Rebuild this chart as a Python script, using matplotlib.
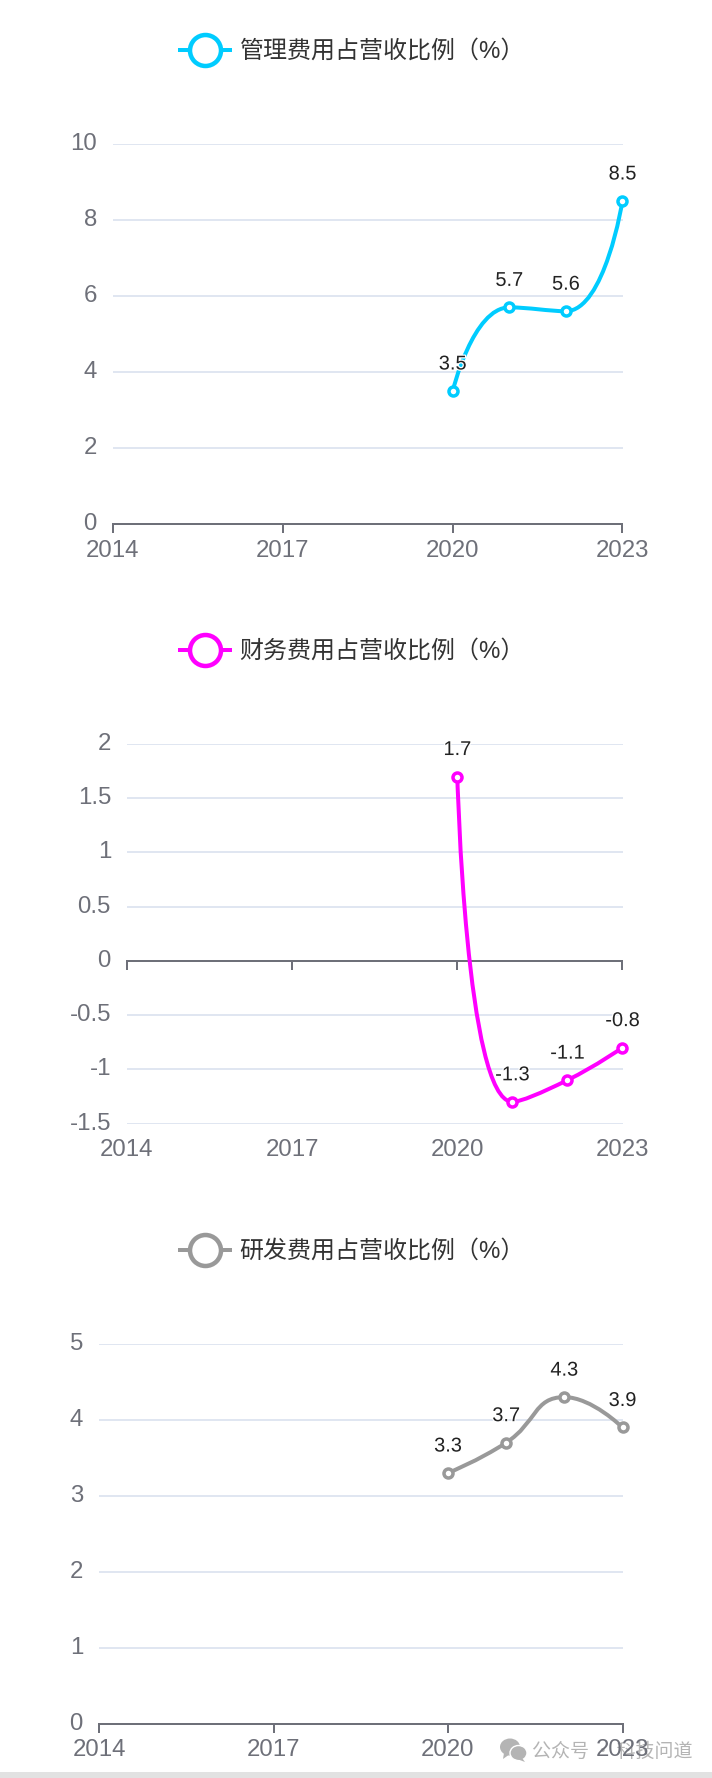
import matplotlib
matplotlib.use("Agg")
import matplotlib.pyplot as plt
import matplotlib.patheffects as pe
import numpy as np
from matplotlib.lines import Line2D
from matplotlib.patches import Ellipse, PathPatch, Polygon, Rectangle
from matplotlib.path import Path

plt.rcParams["font.family"] = ["Liberation Sans", "Noto Sans CJK SC"]

W, H = 712, 1778
PX = 0.72  # points per pixel at dpi 100

tick_years = [2014, 2017, 2020, 2023]
data_years = [2020, 2021, 2022, 2023]

admin_name = "管理费用占营收比例（%）"
admin_values = [3.5, 5.7, 5.6, 8.5]
admin_ticks = [0, 2, 4, 6, 8, 10]
admin_tick_labels = ["0", "2", "4", "6", "8", "10"]

finance_name = "财务费用占营收比例（%）"
finance_values = [1.7, -1.3, -1.1, -0.8]
finance_ticks = [-1.5, -1, -0.5, 0, 0.5, 1, 1.5, 2]
finance_tick_labels = ["-1.5", "-1", "-0.5", "0", "0.5", "1", "1.5", "2"]

rd_name = "研发费用占营收比例（%）"
rd_values = [3.3, 3.7, 4.3, 3.9]
rd_ticks = [0, 1, 2, 3, 4, 5]
rd_tick_labels = ["0", "1", "2", "3", "4", "5"]


def smooth_path(ax, xs, ys, smooth=0.5):
    # same idea as echarts smooth lines, worked out in pixels then mapped back
    pts = ax.transData.transform(np.column_stack([xs, ys]))
    n = len(pts)
    verts = [pts[0]]
    codes = [Path.MOVETO]
    out_cp = pts[0]
    for i in range(1, n):
        p = pts[i]
        if i == n - 1:
            in_cp = p
            next_out = p
        else:
            prev_len = np.hypot(*(p - pts[i - 1]))
            next_len = np.hypot(*(pts[i + 1] - p))
            v = pts[i + 1] - pts[i - 1]
            ratio = next_len / (next_len + prev_len)
            next_out = p + v * smooth * ratio
            lo = np.minimum(pts[i + 1], p)
            hi = np.maximum(pts[i + 1], p)
            next_out = np.clip(next_out, lo, hi)
            in_cp = p - (next_out - p) * prev_len / next_len
            lo = np.minimum(pts[i - 1], p)
            hi = np.maximum(pts[i - 1], p)
            in_cp = np.clip(in_cp, lo, hi)
            next_out = p + (p - in_cp) * next_len / prev_len
        verts += [out_cp, in_cp, p]
        codes += [Path.CURVE4, Path.CURVE4, Path.CURVE4]
        out_cp = next_out
    return Path(ax.transData.inverted().transform(np.array(verts)), codes)


def draw_chart(top, bottom, left, name, values, ticks, labels, color):
    ax = fig.add_axes([left / W, 1 - bottom / H, (622.5 - left) / W, (bottom - top) / H])
    ax.set_xlim(tick_years[0], tick_years[-1])
    ax.set_ylim(ticks[0], ticks[-1])
    ax.patch.set_alpha(0)

    for s in ["top", "right", "left"]:
        ax.spines[s].set_visible(False)
    ax.spines["bottom"].set_position(("data", 0))
    ax.spines["bottom"].set_color("#6E7079")
    ax.spines["bottom"].set_linewidth(2 * PX)

    ax.set_yticks(ticks)
    ax.set_yticklabels(labels)
    ax.tick_params(axis="y", length=0, pad=16 * PX, labelsize=24 * PX, labelcolor="#6E7079")
    for lab in ax.get_yticklabels():
        lab.set_verticalalignment("center")
    for t in ticks:
        if t != 0:
            ax.axhline(t, color="#E0E6F1", lw=2 * PX, zorder=1)
    if ticks[0] < 0:
        zero_gap = (bottom - top) * (0 - ticks[0]) / (ticks[-1] - ticks[0])
    else:
        zero_gap = 0

    ax.set_xticks(tick_years)
    ax.set_xticklabels([str(y) for y in tick_years])
    ax.tick_params(axis="x", length=9 * PX, width=2 * PX, color="#6E7079",
                   pad=(7 + zero_gap) * PX, labelsize=24 * PX, labelcolor="#6E7079")

    ax.add_patch(PathPatch(smooth_path(ax, data_years, values), fc="none", ec=color,
                           lw=4 * PX, zorder=3, clip_on=False, capstyle="round"))
    ax.plot(data_years, values, ls="none", marker="o", ms=9 * PX, mfc="white", mec=color,
            mew=3.5 * PX, zorder=4, clip_on=False, snap=False)

    for x, v in zip(data_years, values):
        ax.annotate(str(v), (x, v), xytext=(0, 27 * PX), textcoords="offset points",
                    ha="center", va="center", fontsize=20 * PX, color="#222222", zorder=5,
                    path_effects=[pe.withStroke(linewidth=2.5 * PX, foreground="white")])

    handle = Line2D([], [], color=color, lw=4 * PX, marker="o", ms=31 * PX, mfc="white",
                    mec=color, mew=4.5 * PX)
    ax.legend([handle], [name], loc="center left", frameon=False, borderpad=0, borderaxespad=0,
              bbox_to_anchor=(179.5 / W, 1 - (top - 92.5) / H), bbox_transform=fig.transFigure,
              fontsize=24 * PX, labelcolor="#333333", handlelength=50 / 24, handletextpad=10 / 24)
    return ax


fig = plt.figure(figsize=(W / 100, H / 100), dpi=100, facecolor="white")

# watermark and bottom band sit under the charts
overlay = fig.add_axes([0, 0, 1, 1], zorder=-1)
overlay.set_xlim(0, W)
overlay.set_ylim(H, 0)
overlay.axis("off")
overlay.add_patch(Rectangle((0, 1772), W, 6, color="#E2E2E2", lw=0))
overlay.add_patch(Ellipse((510, 1747), 20, 17, color="#B4B4B4", lw=0))
overlay.add_patch(Polygon([(504, 1753), (503, 1759), (510, 1754)], color="#B4B4B4", lw=0))
overlay.add_patch(Ellipse((518.5, 1753), 17, 15, color="#B4B4B4", ec="white", lw=1))
overlay.add_patch(Polygon([(522, 1758), (525, 1762), (517, 1759)], color="#B4B4B4", lw=0))
overlay.text(532.5, 1751, "公众号 · 科技问道", fontsize=19 * PX, color="#B4B4B4",
             ha="left", va="center", family=["Noto Sans CJK SC", "Liberation Sans"])

draw_chart(144, 524, 113, admin_name, admin_values, admin_ticks, admin_tick_labels, "#00CCFF")
draw_chart(744, 1123.5, 127, finance_name, finance_values, finance_ticks, finance_tick_labels, "#FF00FF")
draw_chart(1344, 1723.5, 99, rd_name, rd_values, rd_ticks, rd_tick_labels, "#999999")

fig.savefig("out.png", dpi=100)
